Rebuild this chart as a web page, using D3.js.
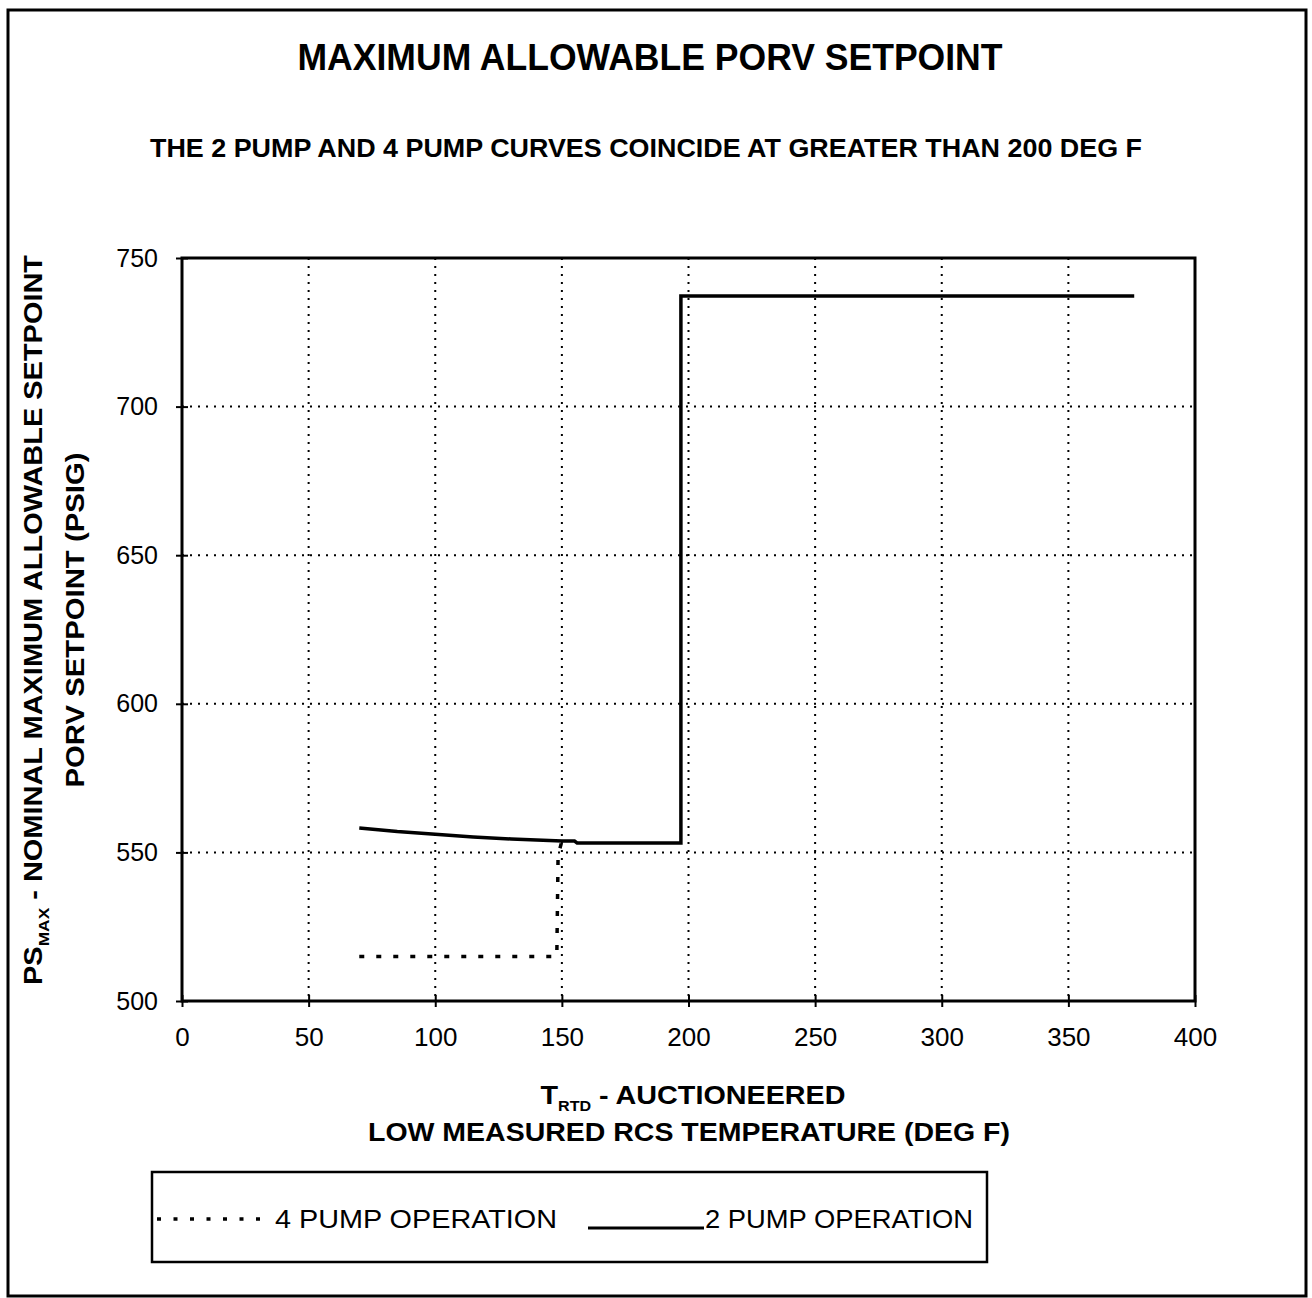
<!DOCTYPE html>
<html><head><meta charset="utf-8">
<script src="https://cdn.jsdelivr.net/npm/d3@7"></script>
<style>
html,body{margin:0;padding:0;background:#fff;}
text{font-family:"Liberation Sans Narrow","Liberation Sans",Arial,sans-serif;fill:#000;}
</style></head>
<body>
<script>
// ---- data ----
const xTicks = [0, 50, 100, 150, 200, 250, 300, 350, 400];
const yTicks = [500, 550, 600, 650, 700, 750];
const twoPumpT = [70, 85, 100, 115, 130, 150, 155, 156, 197, 197, 376];
const twoPumpP = [558.2, 557.0, 556.1, 555.2, 554.5, 553.8, 553.8, 553.2, 553.2, 737.2, 737.2];
const fourPumpT = [70, 148, 148.5, 150];
const fourPumpP = [515, 515, 549, 553.8];
const titleText = "MAXIMUM ALLOWABLE PORV SETPOINT";
const subtitleText = "THE 2 PUMP AND 4 PUMP CURVES COINCIDE AT GREATER THAN 200 DEG F";
const legendLabels = ["4 PUMP OPERATION", "2 PUMP OPERATION"];

const W = 1312, H = 1298;
const svg = d3.select("body").append("svg").attr("width", W).attr("height", H);

// outer frame
svg.append("rect").attr("x", 8).attr("y", 10).attr("width", 1298).attr("height", 1286)
  .attr("fill", "none").attr("stroke", "#000").attr("stroke-width", 3);

const L = 182, R = 1195, T = 258, B = 1001;
const x = d3.scaleLinear().domain([0, 400]).range([L, R]);
const y = d3.scaleLinear().domain([500, 750]).range([B, T]);

// title
svg.append("text").attr("x", 650).attr("y", 70).attr("text-anchor", "middle")
  .attr("font-size", 36).attr("font-weight", "bold")
  .attr("textLength", 705).attr("lengthAdjust", "spacingAndGlyphs").text(titleText);
svg.append("text").attr("x", 646).attr("y", 157).attr("text-anchor", "middle")
  .attr("font-size", 25).attr("font-weight", "bold")
  .attr("textLength", 992).attr("lengthAdjust", "spacingAndGlyphs").text(subtitleText);

// gridlines
const gx = xTicks.filter(v => v > 0 && v < 400), gy = yTicks.filter(v => v > 500 && v < 750);
svg.append("g").selectAll("line").data(gx).join("line")
  .attr("x1", d => x(d)).attr("x2", d => x(d)).attr("y1", T).attr("y2", B)
  .attr("stroke", "#000").attr("stroke-width", 2).attr("stroke-dasharray", "2,6");
svg.append("g").selectAll("line").data(gy).join("line")
  .attr("x1", L).attr("x2", R).attr("y1", d => y(d)).attr("y2", d => y(d))
  .attr("stroke", "#000").attr("stroke-width", 2).attr("stroke-dasharray", "2,6");

// frame
svg.append("rect").attr("x", L).attr("y", T).attr("width", R - L).attr("height", B - T)
  .attr("fill", "none").attr("stroke", "#000").attr("stroke-width", 3);

// axes
const xa = svg.append("g").attr("transform", `translate(0,${B})`)
  .call(d3.axisBottom(x).tickValues(xTicks).tickSize(6).tickSizeOuter(0).tickPadding(21));
xa.select(".domain").remove();
xa.selectAll(".tick line").attr("y1", -6).attr("y2", 6).attr("stroke-width", 2);
xa.selectAll(".tick text").attr("font-size", 26).attr("font-family", "Liberation Sans, Arial, sans-serif").attr("dy", "0.71em");

const ya = svg.append("g").attr("transform", `translate(${L},0)`)
  .call(d3.axisLeft(y).tickValues(yTicks).tickSize(6).tickSizeOuter(0).tickPadding(18));
ya.select(".domain").remove();
ya.selectAll(".tick line").attr("x1", -6).attr("x2", 6).attr("stroke-width", 2);
ya.selectAll(".tick text").attr("font-size", 25).attr("font-family", "Liberation Sans, Arial, sans-serif");

// lines
const line = d3.line().x(d => x(d[0])).y(d => y(d[1]));
svg.append("path").datum(fourPumpT.map((t, i) => [t, fourPumpP[i]]))
  .attr("d", line).attr("fill", "none").attr("stroke", "#000")
  .attr("stroke-width", 3.5).attr("stroke-dasharray", "5,12");
svg.append("path").datum(twoPumpT.map((t, i) => [t, twoPumpP[i]]))
  .attr("d", line).attr("fill", "none").attr("stroke", "#000")
  .attr("stroke-width", 3.5).attr("stroke-linejoin", "miter");

// y-axis title
const yt = svg.append("g").attr("transform", "translate(42,620) rotate(-90)");
const yt1 = yt.append("text").attr("text-anchor", "middle").attr("font-size", 25).attr("font-weight", "bold")
  .attr("textLength", 730).attr("lengthAdjust", "spacingAndGlyphs");
yt1.append("tspan").text("PS");
yt1.append("tspan").attr("font-size", 15).attr("dy", 7).text("MAX");
yt1.append("tspan").attr("dy", -7).text(" - NOMINAL MAXIMUM ALLOWABLE SETPOINT");
yt.append("text").attr("y", 42).attr("text-anchor", "middle").attr("font-size", 25).attr("font-weight", "bold")
  .attr("textLength", 335).attr("lengthAdjust", "spacingAndGlyphs").text("PORV SETPOINT (PSIG)");

// x-axis title
const xt1 = svg.append("text").attr("x", 693).attr("y", 1104).attr("text-anchor", "middle")
  .attr("font-size", 25).attr("font-weight", "bold").attr("textLength", 305).attr("lengthAdjust", "spacingAndGlyphs");
xt1.append("tspan").text("T");
xt1.append("tspan").attr("font-size", 14).attr("dy", 7).text("RTD");
xt1.append("tspan").attr("dy", -7).text(" - AUCTIONEERED");
svg.append("text").attr("x", 689).attr("y", 1141).attr("text-anchor", "middle")
  .attr("font-size", 25).attr("font-weight", "bold").attr("textLength", 642).attr("lengthAdjust", "spacingAndGlyphs")
  .text("LOW MEASURED RCS TEMPERATURE (DEG F)");

// legend
svg.append("rect").attr("x", 152).attr("y", 1172).attr("width", 835).attr("height", 90)
  .attr("fill", "none").attr("stroke", "#000").attr("stroke-width", 2.5);
svg.append("line").attr("x1", 157).attr("x2", 272).attr("y1", 1219).attr("y2", 1219)
  .attr("stroke", "#000").attr("stroke-width", 3.5).attr("stroke-dasharray", "4,12.5");
svg.append("text").attr("x", 275).attr("y", 1228).attr("font-size", 25)
  .attr("textLength", 282).attr("lengthAdjust", "spacingAndGlyphs").text(legendLabels[0]);
svg.append("line").attr("x1", 588).attr("x2", 704).attr("y1", 1228).attr("y2", 1228)
  .attr("stroke", "#000").attr("stroke-width", 3);
svg.append("text").attr("x", 705).attr("y", 1228).attr("font-size", 25)
  .attr("textLength", 268).attr("lengthAdjust", "spacingAndGlyphs").text(legendLabels[1]);
</script>
</body></html>
